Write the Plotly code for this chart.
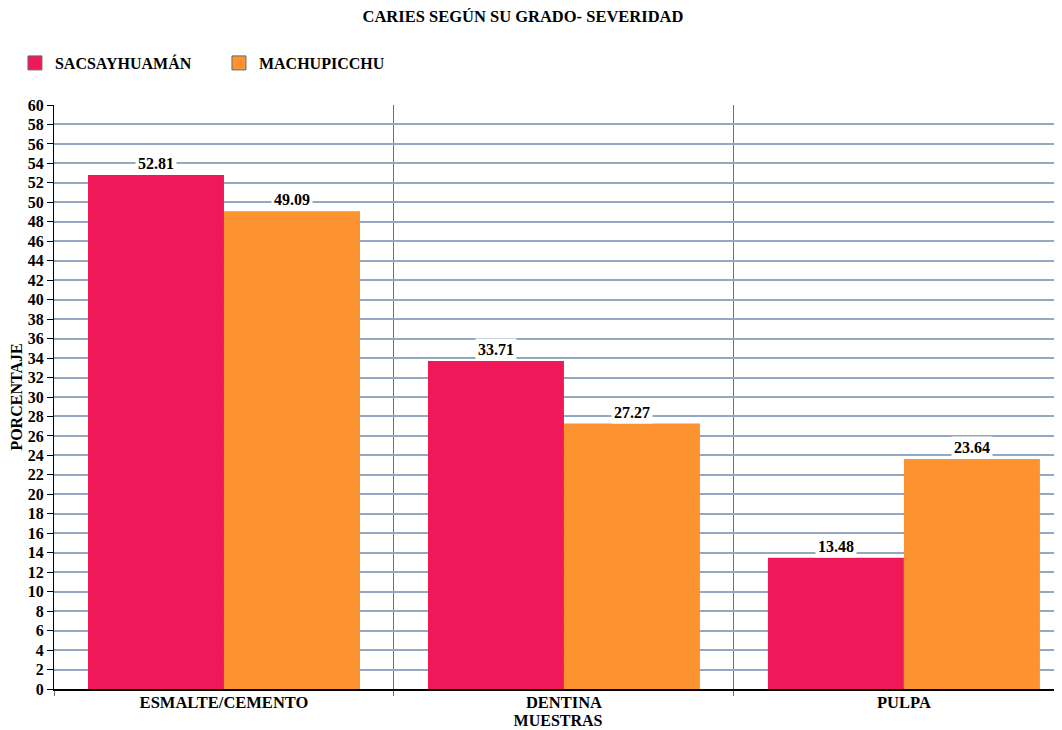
import plotly.graph_objects as go

categories = ["ESMALTE/CEMENTO", "DENTINA", "PULPA"]
sacsayhuaman = [52.81, 33.71, 13.48]
machupicchu = [49.09, 27.27, 23.64]
series_names = ["SACSAYHUAMÁN", "MACHUPICCHU"]
colors = ["#F1185A", "#FC9230"]

FONT = "Liberation Serif"

fig = go.Figure()
for name, vals, col in zip(series_names, [sacsayhuaman, machupicchu], colors):
    fig.add_trace(go.Bar(x=categories, y=vals, name=name, showlegend=False,
                         marker=dict(color=col, line=dict(width=0))))
# legend entries (square swatches)
for name, col in zip(series_names, colors):
    fig.add_trace(go.Scatter(x=[None], y=[None], mode="markers", name="<b>%s</b>" % name,
                             marker=dict(symbol="square", size=14, color=col,
                                         line=dict(color="#6b6b6b", width=1))))

# value labels with white background
for vals, shift in zip([sacsayhuaman, machupicchu], [-68, 68]):
    for c, v in zip(categories, vals):
        fig.add_annotation(x=c, y=v, xref="x", yref="y", text="<b>%.2f</b>" % v,
                           showarrow=False, yanchor="bottom", xshift=shift, yshift=0,
                           bgcolor="white", borderpad=2,
                           font=dict(family=FONT, size=16, color="black"))

fig.update_layout(
    width=1054, height=722,
    margin=dict(l=46, r=0, t=97, b=41, autoexpand=False),
    paper_bgcolor="white", plot_bgcolor="white",
    bargap=0.2, bargroupgap=0,
    title=dict(text="<b>CARIES SEGÚN SU GRADO- SEVERIDAD</b>", x=0.4886, xanchor="center",
               y=0.989, yanchor="middle", font=dict(family=FONT, size=16.5, color="black")),
    legend=dict(orientation="h", xref="container", yref="container", x=0.0066, y=0.9238,
                xanchor="left", yanchor="middle", entrywidth=159, entrywidthmode="pixels",
                font=dict(family=FONT, size=16, color="black")),
    font=dict(family=FONT, size=16, color="black"),
)
fig.update_xaxes(
    type="category", range=[-0.5, 2.465], tickson="boundaries", automargin=False,
    showgrid=True, gridcolor="#5A7496", gridwidth=1,
    showline=True, linecolor="black", linewidth=2,
    ticks="outside", ticklen=5, tickcolor="#5A7496", ticklabelstandoff=-3,
    tickfont=dict(family=FONT, size=16.5, color="black"),
    title=dict(text="<b>MUESTRAS</b>", standoff=4, font=dict(family=FONT, size=16, color="black")),
    tickprefix="<b>", ticksuffix="</b>",
)
fig.update_yaxes(
    range=[0, 60], dtick=2, showgrid=True, gridcolor="#94A8C2", gridwidth=1.5,
    showline=True, linecolor="black", linewidth=1, automargin=False,
    ticks="outside", ticklen=6, tickcolor="black",
    tickfont=dict(family=FONT, size=16, color="black"),
    tickprefix="<b>", ticksuffix="</b>",
    title=dict(text="<b>PORCENTAJE</b>", standoff=6, font=dict(family=FONT, size=16, color="black")),
    zeroline=False,
)
fig.write_html("out.html")
